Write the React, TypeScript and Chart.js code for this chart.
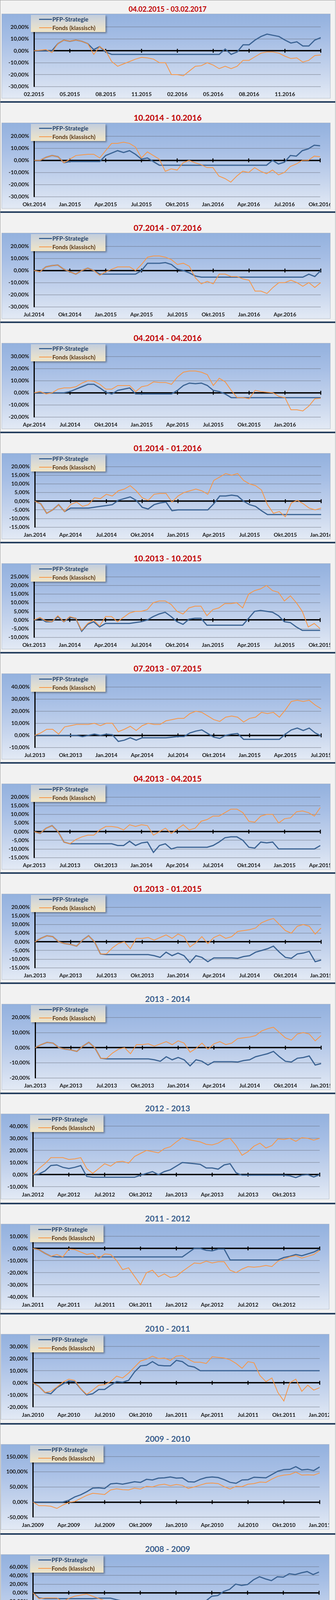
import React, { useEffect, useRef } from 'react';
import { Chart, registerables } from 'chart.js';

Chart.register(...registerables);

if (typeof document !== 'undefined') {
  document.body.style.margin = '0';
  document.body.style.background = '#ffffff';
}

// ---------------- DATA ----------------
const SERIES_PFP = 'PFP-Strategie';
const SERIES_FONDS = 'Fonds (klassisch)';

// values are sampled every half month over the 24-month window of each chart
const TITLE_1 = '04.02.2015 - 03.02.2017';
const XLABELS_1 = ['02.2015', '05.2015', '08.2015', '11.2015', '02.2016', '05.2016', '08.2016', '11.2016'];
const YAXIS_1 = [-30, 20, 10];
const PFP_1 = [0, 0, 0, 0, 6, 9, 8, 9, 8, 6, 1, 3.5, -1, -3, -3, -3, -3, -3, -3, -3, -3, -3, -3, -3, -3, -3, -3, -3, -3, -3, -3, -3, 1.5, -3, -1, 5, 5, 9, 12, 14, 13, 12, 9, 6.5, 7.5, 4, 4, 9, 11];
const FONDS_1 = [0, 0.5, 1, -1.5, 6, 9, 8, 9, 8, 6, -3, 3.5, 0, -9, -13, -11, -9, -7, -5.5, -6, -7, -10, -10, -20, -20, -21, -17, -13, -12.5, -10, -12, -15, -13, -15, -13, -8, -8, -5, -2, -1, -1, -2, -4.5, -6.5, -6, -9.5, -8, -4, -3.5];

const TITLE_2 = '10.2014 - 10.2016';
const XLABELS_2 = ['Okt.2014', 'Jan.2015', 'Apr.2015', 'Jul.2015', 'Okt.2015', 'Jan.2016', 'Apr.2016', 'Jul.2016', 'Okt.2016'];
const YAXIS_2 = [-30, 20, 10];
const PFP_2 = [0, 0, 2.5, 4, 3, -2, -1, -1, -1, -1, -1, -1, 4, 6, 8, 6.5, 8, 5, 1, 2, -1, -4, -4, -4, -4, -4, -4, -4, -4, -4, -4, -4, -4, -4, -4, -4, -4, -4, -4, -4, 0, -3, -1.5, 4, 3.5, 8, 9.5, 12.5, 12];
const FONDS_2 = [0, 0, 2.5, 4, 3, -2, 1, 4, 4.5, 5, 5, 2, 8, 14, 14, 15, 14, 11, 2, 7, 4, 1, -9, -7, -8, -2, 0, -2, -3.5, -6, -6, -13, -15, -18, -13, -9, -10, -6, -9, -11, -8, -12, -10, -5, -3, 0, 0, 3.5, 3];

const TITLE_3 = '07.2014 - 07.2016';
const XLABELS_3 = ['Jul.2014', 'Okt.2014', 'Jan.2015', 'Apr.2015', 'Jul.2015', 'Okt.2015', 'Jan.2016', 'Apr.2016'];
const YAXIS_3 = [-30, 20, 10];
const PFP_3 = [0, -1, 3, 4, 4.5, 1, -1, -3, 0, 2, 0, -3, -3, -3, -3, -3, -3, -3, 0, 6, 6, 6, 6.5, 5, 1, 0, -2, -4.5, -5.5, -5.5, -5.5, -5.5, -5.5, -5.5, -5.5, -5.5, -5.5, -5.5, -5.5, -5.5, -5.5, -5.5, -5.5, -5.5, -5.5, -5.5, -3, -5, 0];
const FONDS_3 = [0, -1, 3, 4, 4.5, 1, -1, -3, 0, 2, 0, -4, -1, 1, 3, 3, 3, 0, 5, 11, 12, 12, 11, 9, 5, 6, 3.5, -6, -11, -9, -11, -3, -3, -5, -5, -7, -8, -17, -17, -19, -14, -10, -10, -8, -10, -13, -10, -14, -10];

const TITLE_4 = '04.2014 - 04.2016';
const XLABELS_4 = ['Apr.2014', 'Jul.2014', 'Okt.2014', 'Jan.2015', 'Apr.2015', 'Jul.2015', 'Okt.2015', 'Jan.2016'];
const YAXIS_4 = [-20, 30, 10];
const PFP_4 = [0, 0, 0, 0, 0, 0, 1, 3, 5, 7, 7, 4, 0.5, -1, 2, 3, 4, -1, -1, -1, -1, -1, -1, -1, 2, 6, 8, 7.5, 8, 6, 2, 1, -1, -4, -4, -4, -4, -4, -4, -4, -4, -4, -4, -4, -4, -4, -4, -4, -4];
const FONDS_4 = [0, 1, -1, 0, 3, 4, 4, 5, 8, 10, 9.5, 7, 3, 3, 6, 6, 6, 1, 5, 6, 9, 8.5, 8.5, 7, 13, 17, 18, 18, 17, 15, 6, 12, 9, 2, -4, -4, -5, 2, 1, 0.5, 0, -3, -4, -14, -14, -15, -11, -5, -4.5];

const TITLE_5 = '01.2014 - 01.2016';
const XLABELS_5 = ['Jan.2014', 'Apr.2014', 'Jul.2014', 'Okt.2014', 'Jan.2015', 'Apr.2015', 'Jul.2015', 'Okt.2015', 'Jan.2016'];
const YAXIS_5 = [-15, 20, 5];
const PFP_5 = [0, -1.5, -7, -5, -2, -6, -4, -4, -4, -4, -3.5, -3, -2.5, -2, 0.5, 1.5, 2.5, 0.5, -3.5, -4.5, -2, -1, -0.5, -5.5, -5, -5, -5, -5, -5, -5, -1.5, 3, 3, 3.5, 3, 0, -2, -3, -5.5, -7.7, -7.7, -7.7, -7.7, -7.7, -7.7, -7.7, -7.7, -7.7, -7.7];
const FONDS_5 = [0, -1.5, -7, -5, -2, -6, -2, -0.5, -3, -2, 2, 1.5, 4, 3, 6, 7, 9, 6, 2, 0.5, 4, 4.5, 4.5, -0.5, 3, 5, 6, 7, 6, 4, 12, 14, 16, 15, 16, 12, 10, 9, 6.5, -2, -7, -6, -9, -1, 0.5, -1.5, -4, -5, -4];

const TITLE_6 = '10.2013 - 10.2015';
const XLABELS_6 = ['Okt.2013', 'Jan.2014', 'Apr.2014', 'Jul.2014', 'Okt.2014', 'Jan.2015', 'Apr.2015', 'Jul.2015', 'Okt.2015'];
const YAXIS_6 = [-10, 25, 5];
const PFP_6 = [0, 1, -1, -1, 2, -1, 1.5, 1, -6.5, -2.5, -1, -4, -2, -2, -2, -2, -2, -1.5, -1, 0, 2, 3.5, 4.5, 2, -1, -2.5, 0.5, 1, 1, -3, -3, -3, -3, -3, -3, -3, 1, 5, 5.5, 5, 4.5, 2.5, -1, -1.5, -4, -6, -6, -6, -6];
const FONDS_6 = [0, 1.5, -0.5, -1, 2.5, -1, 2, 1, -6, -2, 0, -3.5, 2, 2, -1, 1.5, 4, 5, 5, 6, 10, 11, 11, 9, 5, 3.5, 7, 8, 8, 2.5, 6, 7, 9.5, 9.5, 10, 7, 15, 17, 18, 20, 17, 16, 11, 14, 10, 5, -4, -2, -5];

const TITLE_7 = '07.2013 - 07.2015';
const XLABELS_7 = ['Jul.2013', 'Okt.2013', 'Jan.2014', 'Apr.2014', 'Jul.2014', 'Okt.2014', 'Jan.2015', 'Apr.2015', 'Jul.2015'];
const YAXIS_7 = [-10, 40, 10];
const PFP_7 = [0, 0, 0, 0, 0, 0, 0, 0, -1, 0, 1, 0, 1, 0.5, -5, -4, -2, -4, -2, -2, -2, -2, -2, -1.5, -1, -1, 2, 3.5, 4.5, 1.5, -1.5, -2.5, 0, 1, 1.5, -3.3, -3.3, -3.3, -3.3, -3.3, -3.3, -3.3, 1, 4.5, 6, 4, 6, 2, -0.5];
const FONDS_7 = [0, 2, 5, 5, 1, 7, 8, 9, 9, 9, 10, 8, 10, 10, 3, 5, 7.5, 4, 8, 10, 9, 9, 12, 13, 14, 14, 18, 20, 19, 16, 13, 11.5, 15, 16, 15, 11, 14, 15, 19, 18, 19, 15, 21, 28, 29, 28, 29, 25, 22];

const TITLE_8 = '04.2013 - 04.2015';
const XLABELS_8 = ['Apr.2013', 'Jul.2013', 'Okt.2013', 'Jan.2014', 'Apr.2014', 'Jul.2014', 'Okt.2014', 'Jan.2015', 'Apr.2015'];
const YAXIS_8 = [-15, 20, 5];
const PFP_8 = [0, -1, 2, 3.5, 0, -6, -7, -7, -7, -7, -7, -7, -7, -7, -8, -8, -5.5, -8, -6.5, -6, -12, -8, -7, -10, -9, -9, -9, -9, -9, -9, -8, -6, -3.5, -3, -3, -5, -9, -9.5, -6, -6.5, -6, -10, -10, -10, -10, -10, -10, -10, -8];
const FONDS_8 = [0, -1, 2, 3.5, 0, -6, -7, -4.5, -3, -2, -2, 1, 3, 3, 2.5, 1, 4, 3, 4, 3.5, -2, 0, 2, -1, 1.5, 4, 1, 2, 6, 7, 9, 9, 11, 13, 13, 11, 6, 5.5, 9, 10, 10, 5, 7.5, 8, 11.5, 12, 11, 9, 14];

// 01.2013 - 01.2015 and 2013 - 2014 show the same window
const TITLE_9 = '01.2013 - 01.2015';
const TITLE_10 = '2013 - 2014';
const XLABELS_9 = ['Jan.2013', 'Apr.2013', 'Jul.2013', 'Okt.2013', 'Jan.2014', 'Apr.2014', 'Jul.2014', 'Okt.2014', 'Jan.2015'];
const YAXIS_9 = [-15, 20, 5];
const YAXIS_10 = [-20, 20, 5];
const PFP_9 = [0, 2, 3.5, 3, 0, -1, -1.5, -2.5, 1, 3.5, 0, -7, -7.4, -7.4, -7.4, -7.4, -7.4, -7.4, -7.4, -7.4, -8, -9, -6, -8, -6.5, -8, -12, -8, -9, -11.5, -9.3, -9.3, -9.3, -9.3, -9.5, -8.5, -8, -6, -5, -4, -2.5, -6, -9, -9.5, -7, -6.5, -5.5, -11.5, -10.5];
const FONDS_9 = [0, 2, 3.5, 3, 0, -1, -1.5, -2.5, 1, 3.5, 0, -7, -7, -3.5, -1, 0, -4, 2, 2, 2.5, 1, 2.5, 4, 2, 4.5, 3, -3, -0.5, 3, -1, 2.5, 4, 2, 3, 6, 6.5, 7, 8, 11, 12.5, 13.5, 10, 6.5, 5, 9, 10, 9, 4.5, 8];

const TITLE_11 = '2012 - 2013';
const XLABELS_11 = ['Jan.2012', 'Apr.2012', 'Jul.2012', 'Okt.2012', 'Jan.2013', 'Apr.2013', 'Jul.2013', 'Okt.2013'];
const YAXIS_11 = [-10, 40, 10];
const PFP_11 = [0, 0.5, 3, 7.5, 8, 6, 5, 6, 7.5, -1.5, -2.2, -2.2, -2.2, -2.2, -2.2, -2.2, -2.2, -2.2, -0.5, 1, 2.5, 0, 2.5, 4, 7, 10, 9.5, 9, 8.5, 5.5, 5.5, 4.5, 8, 9, 1.5, -0.5, -0.5, -0.5, -0.5, -0.5, -0.5, -0.5, -0.5, -1, -2.5, -0.5, 0, -2, 0];
const FONDS_11 = [0, 5, 9, 14, 14, 14, 12.5, 13, 14, 5, 1, 5, 9, 7, 10.5, 11, 9.5, 15, 17.5, 20, 19, 18, 21.5, 23, 27, 30.5, 29, 28, 27, 25, 24.5, 26, 29, 30, 24, 16, 19, 23.5, 26, 22, 24, 29.5, 29, 30, 27.5, 30.5, 30, 28.5, 30];

const TITLE_12 = '2011 - 2012';
const XLABELS_12 = ['Jan.2011', 'Apr.2011', 'Jul.2011', 'Okt.2011', 'Jan.2012', 'Apr.2012', 'Jul.2012', 'Okt.2012'];
const YAXIS_12 = [-40, 10, 10];
const PFP_12 = [0, -1, -4, -6.5, -7, -7, -7, -7, -7, -7, -7, -7, -7, -7, -7, -7, -7, -7, -7, -7, -7, -7, -7, -7, -7, -7, -3.5, 0, 0, -1.5, -2, -0.5, -0.5, -9.5, -9.5, -9.5, -9.5, -9.5, -9.5, -9.5, -9.5, -9.5, -7.5, -6.5, -5, -6, -4.5, -3, -0.5];
const FONDS_12 = [0, -1, -4, -6.5, -5, -7, -0.5, -1, -3, -5, -4, -8.5, -4.5, -5, -10, -17.5, -16, -23, -30, -20, -18, -23.5, -21, -24, -23, -19, -15.5, -12, -12.5, -10.5, -12, -11, -11, -18, -20, -17, -15, -15.5, -15, -14, -15, -10.5, -9, -7, -6, -8, -6.5, -5, -1.5];

const TITLE_13 = '2010 - 2011';
const XLABELS_13 = ['Jan.2010', 'Apr.2010', 'Jul.2010', 'Okt.2010', 'Jan.2011', 'Apr.2011', 'Jul.2011', 'Okt.2011', 'Jan.2012'];
const YAXIS_13 = [-20, 30, 10];
const PFP_13 = [0, -3, -8, -9, -4, -1, 1.5, 1, -5, -10, -9, -5.5, -5.5, -2, 1, 0.5, 2, 9, 14, 14.5, 17.5, 14.5, 14, 14, 18.5, 17.5, 14, 13, 10, 10, 10, 10, 10, 10, 10, 10, 10, 10, 10, 10, 10, 10, 10, 10, 10, 10, 10, 10, 10];
const FONDS_13 = [0, -3, -8, -7, -3.5, 0.5, 3, 2, -5, -9.5, -6, -2, -1.5, 1, 5.5, 4, 8, 13, 18, 19.5, 22, 20, 20.5, 18.5, 22, 22.5, 19.5, 17, 17, 16, 21.5, 21, 20.5, 19, 16, 12, 17.5, 16.5, 6, 1, 4, -8, -15, 0, 3, -7, -2, -6, -4];

const TITLE_14 = '2009 - 2010';
const XLABELS_14 = ['Jan.2009', 'Apr.2009', 'Jul.2009', 'Okt.2009', 'Jan.2010', 'Apr.2010', 'Jul.2010', 'Okt.2010', 'Jan.2011'];
const YAXIS_14 = [-50, 150, 50];
const PFP_14 = [0, 0, 0, 0, 0, 0, 6, 17, 24, 34, 46, 47, 45, 60, 62, 59, 63, 67, 65, 75, 73, 79, 80, 83, 79, 80, 67, 66, 75, 81, 83, 81, 74, 65, 62, 73, 74, 82, 81, 80, 91, 102, 107, 108, 117, 106, 108, 104, 116];
const FONDS_14 = [0, -12, -12, -14, -21, -10, -1, 2, 12, 22, 29, 27, 25, 40, 44, 41, 40, 46, 43, 52, 50, 56, 59, 54, 58, 55, 45, 50, 56, 62, 63, 61, 51, 43, 52, 51, 59, 61, 66, 65, 76, 85, 89, 91, 99, 89, 90, 89, 96];

const TITLE_15 = '2008 - 2009';
const XLABELS_15 = ['Jan.2008', 'Apr.2008', 'Jul.2008', 'Okt.2008', 'Jan.2009', 'Apr.2009', 'Jul.2009', 'Okt.2009', 'Jan.2010'];
const YAXIS_15 = [-80, 60, 20];
const PFP_15 = [0, -12, -13.5, -13.5, -13.5, -13.5, -13.5, -13.5, -13.5, -13.5, -13.5, -12.5, -12.5, -12.5, -16, -19, -19, -19, -19, -19, -19, -19, -19, -19, -19, -19, -19, -19, -19, -19, -8, -6.5, 3, 8, 20, 17, 19, 30, 37, 32, 28, 37, 36, 44, 42, 46, 49, 42, 48];
const FONDS_15 = [0, -14, -12, -12, -12, -21, -13, -8, -5.5, -3, -8, -13, -18, -19, -19, -25, -29, -37, -45, -57, -56, -60, -55, -52, -50, -55, -55, -56, -58, -56, -49, -46, -40, -38, -33, -33, -30, -25, -25, -27, -24, -24, -22, -20, -19, -18, -18, -20, -17];

// ---------------- STYLE / LAYOUT ----------------
const MONTHS_SPAN = 24;
const TICK_STEP = 3;
const BLUE = '#3B6393';
const ORANGE = '#F79646';
const RED_TITLE = '#C00000';
const BLUE_TITLE = '#3A5F8E';
const GRID_COLOR = 'rgba(100,106,118,0.55)';
const TEXT_COLOR = '#161616';
const FONT = "Lato, 'Open Sans', sans-serif";
const PANEL_H = 282;
const BOX_GRADIENT = 'linear-gradient(180deg, #93B1DE 0%, #A6BEE5 30%, #C4D3EC 65%, #E3EAF5 100%)';
const LEGEND_GRADIENT = 'linear-gradient(180deg, #C2CDDC 0%, #D9DAD6 45%, #F0E5C6 100%)';

Chart.defaults.font.family = FONT;

type PanelDef = {
  title: string;
  titleColor: string;
  xLabels: string[];
  yAxis: number[];
  pfp: number[];
  fonds: number[];
};

const PANELS: PanelDef[] = [
  { title: TITLE_1, titleColor: RED_TITLE, xLabels: XLABELS_1, yAxis: YAXIS_1, pfp: PFP_1, fonds: FONDS_1 },
  { title: TITLE_2, titleColor: RED_TITLE, xLabels: XLABELS_2, yAxis: YAXIS_2, pfp: PFP_2, fonds: FONDS_2 },
  { title: TITLE_3, titleColor: RED_TITLE, xLabels: XLABELS_3, yAxis: YAXIS_3, pfp: PFP_3, fonds: FONDS_3 },
  { title: TITLE_4, titleColor: RED_TITLE, xLabels: XLABELS_4, yAxis: YAXIS_4, pfp: PFP_4, fonds: FONDS_4 },
  { title: TITLE_5, titleColor: RED_TITLE, xLabels: XLABELS_5, yAxis: YAXIS_5, pfp: PFP_5, fonds: FONDS_5 },
  { title: TITLE_6, titleColor: RED_TITLE, xLabels: XLABELS_6, yAxis: YAXIS_6, pfp: PFP_6, fonds: FONDS_6 },
  { title: TITLE_7, titleColor: RED_TITLE, xLabels: XLABELS_7, yAxis: YAXIS_7, pfp: PFP_7, fonds: FONDS_7 },
  { title: TITLE_8, titleColor: RED_TITLE, xLabels: XLABELS_8, yAxis: YAXIS_8, pfp: PFP_8, fonds: FONDS_8 },
  { title: TITLE_9, titleColor: RED_TITLE, xLabels: XLABELS_9, yAxis: YAXIS_9, pfp: PFP_9, fonds: FONDS_9 },
  { title: TITLE_10, titleColor: BLUE_TITLE, xLabels: XLABELS_9, yAxis: YAXIS_10, pfp: PFP_9, fonds: FONDS_9 },
  { title: TITLE_11, titleColor: BLUE_TITLE, xLabels: XLABELS_11, yAxis: YAXIS_11, pfp: PFP_11, fonds: FONDS_11 },
  { title: TITLE_12, titleColor: BLUE_TITLE, xLabels: XLABELS_12, yAxis: YAXIS_12, pfp: PFP_12, fonds: FONDS_12 },
  { title: TITLE_13, titleColor: BLUE_TITLE, xLabels: XLABELS_13, yAxis: YAXIS_13, pfp: PFP_13, fonds: FONDS_13 },
  { title: TITLE_14, titleColor: BLUE_TITLE, xLabels: XLABELS_14, yAxis: YAXIS_14, pfp: PFP_14, fonds: FONDS_14 },
  { title: TITLE_15, titleColor: BLUE_TITLE, xLabels: XLABELS_15, yAxis: YAXIS_15, pfp: PFP_15, fonds: FONDS_15 },
];

const LAYOUT_A = { titleY: 18, boxL: 3, boxT: 31, boxW: 842, boxB: 251, plotT: 65.5, plotB: 220.5, labelY: 240, legendL: 78, legendW: 191 };
const LAYOUT_B = { titleY: 16, boxL: 1, boxT: 30, boxW: 841, boxB: 249, plotT: 62, plotB: 217, labelY: 237, legendL: 76, legendW: 188 };
const PLOT_X = [
  [86, 820], [86.5, 818.5], [86, 820], [86.5, 820], [88, 821],
  [86, 818.5], [88, 821], [86.5, 819], [88.3, 821], [89, 821],
  [83.4, 817.3], [83.4, 817.3], [83.4, 817.3], [83.4, 817.3], [83.4, 815.7],
];

const fmtPct = (v: number) => v.toFixed(2).replace('.', ',') + '%';

const zeroTicksPlugin = {
  id: 'zeroTicks',
  beforeDatasetsDraw(chart: any) {
    const xs = chart.scales.x;
    const ys = chart.scales.y;
    const y0 = ys.getPixelForValue(0);
    const ctx = chart.ctx;
    ctx.save();
    ctx.strokeStyle = '#000';
    ctx.lineWidth = 2.5;
    for (const t of xs.ticks) {
      if (t.value <= xs.min) continue;
      const px = xs.getPixelForValue(t.value);
      ctx.beginPath();
      ctx.moveTo(px, y0 - 5);
      ctx.lineTo(px, y0 + 5);
      ctx.stroke();
    }
    ctx.restore();
  },
};

function LegendBox({ left, width }: { left: number; width: number }) {
  const row = (center: number, color: string, thick: number, text: string, textColor: string) => (
    <div style={{ position: 'absolute', left: 0, top: center - 10, width, height: 20 }}>
      <div style={{ position: 'absolute', left: 21, width: 33, top: 10 - thick / 2, height: thick, background: color }} />
      <div style={{ position: 'absolute', left: 55, top: 0, height: 20, lineHeight: '20px', fontFamily: FONT, fontWeight: 700, fontSize: 15, color: textColor, whiteSpace: 'nowrap' }}>{text}</div>
    </div>
  );
  return (
    <div style={{ position: 'absolute', left, top: 3, width, height: 44, background: LEGEND_GRADIENT, boxShadow: '3px 3px 4px rgba(0,0,0,0.35)' }}>
      {row(11, BLUE, 3, SERIES_PFP, '#1F3D66')}
      {row(33, ORANGE, 2.5, SERIES_FONDS, '#5b3716')}
    </div>
  );
}

function ChartPanel({ def, index }: { def: PanelDef; index: number }) {
  const ref = useRef<HTMLCanvasElement | null>(null);
  const L = index < 10 ? LAYOUT_A : LAYOUT_B;
  const first = index === 0;
  const boxT = first ? 34 : L.boxT;
  const W = L.boxW;
  const H = L.boxB - boxT;
  const plotT = first ? 68 : L.plotT;
  const [plotL, plotR] = PLOT_X[index];
  const cL = plotL - L.boxL;
  const cR = plotR - L.boxL;
  const cT = plotT - boxT;
  const cB = L.plotB - boxT;
  const labelPad = L.labelY - L.plotB - 8.4;

  useEffect(() => {
    if (!ref.current) return;
    const n = def.pfp.length;
    const step = MONTHS_SPAN / (n - 1);
    const pts = (arr: number[]) => arr.map((v, i) => ({ x: i * step, y: v }));
    const [yMin, yMax, yStep] = def.yAxis;
    const tickFont = { family: FONT, size: 14, weight: 'bold' as const };
    const chart = new Chart(ref.current, {
      type: 'line',
      data: {
        datasets: [
          { label: SERIES_PFP, data: pts(def.pfp), borderColor: BLUE, backgroundColor: BLUE, borderWidth: 3, pointRadius: 0, tension: 0, order: 1 },
          { label: SERIES_FONDS, data: pts(def.fonds), borderColor: ORANGE, backgroundColor: ORANGE, borderWidth: 2, pointRadius: 0, tension: 0, order: 0 },
        ],
      },
      options: {
        animation: false,
        responsive: false,
        events: [],
        layout: { padding: { top: cT, right: W - cR, left: 0, bottom: 0 } },
        plugins: { legend: { display: false }, tooltip: { enabled: false }, title: { display: false } },
        scales: {
          x: {
            type: 'linear',
            min: 0,
            max: MONTHS_SPAN,
            grid: { display: false, drawTicks: false },
            border: { display: false },
            ticks: {
              stepSize: TICK_STEP,
              autoSkip: false,
              maxRotation: 0,
              minRotation: 0,
              padding: labelPad,
              color: TEXT_COLOR,
              font: tickFont,
              callback: (v: any) => {
                const i = Math.round(Number(v) / TICK_STEP);
                return def.xLabels[i] ?? '';
              },
            },
            afterFit: (s: any) => {
              s.height = H - cB;
              s.paddingLeft = 0;
              s.paddingRight = 0;
            },
          },
          y: {
            type: 'linear',
            min: yMin,
            max: yMax,
            grid: {
              drawTicks: false,
              color: (c: any) => (c.tick && c.tick.value === 0 ? '#000000' : GRID_COLOR),
              lineWidth: (c: any) => (c.tick && c.tick.value === 0 ? 3.5 : 1.5),
            },
            border: { display: true, color: '#000000', width: 3 },
            ticks: {
              stepSize: yStep,
              padding: 13,
              color: TEXT_COLOR,
              font: tickFont,
              callback: (v: any) => fmtPct(Number(v)),
            },
            afterFit: (s: any) => {
              s.width = cL;
              s.paddingTop = 0;
              s.paddingBottom = 0;
            },
          },
        },
      },
      plugins: [zeroTicksPlugin],
    });
    return () => chart.destroy();
  }, []);

  return (
    <div style={{ position: 'absolute', top: index * PANEL_H, left: 0, width: 858, height: PANEL_H }}>
      <div
        style={{
          position: 'absolute', left: 0, width: 856, top: (first ? 22 : L.titleY) - 14, height: 28, lineHeight: '28px',
          textAlign: 'center', fontFamily: FONT, fontWeight: 700, fontSize: first ? 18 : 21, color: def.titleColor,
        }}
      >
        {def.title}
      </div>
      <div style={{ position: 'absolute', left: L.boxL, top: boxT, width: W, height: H, background: BOX_GRADIENT, overflow: 'hidden' }}>
        <canvas ref={ref} width={W} height={H} style={{ position: 'absolute', left: 0, top: 0, width: W, height: H }} />
        <div style={{ position: 'absolute', left: 0, top: 0, right: 0, bottom: 0, border: '1px solid #B2BCCA', pointerEvents: 'none' }} />
        <LegendBox left={L.legendL - L.boxL} width={L.legendW} />
      </div>
      <div style={{ position: 'absolute', left: 0, top: 258, width: 857, height: 4, background: '#243E5E' }} />
    </div>
  );
}

export default function App() {
  return (
    <div
      style={{
        position: 'relative', width: 859, height: 4232, boxSizing: 'border-box',
        border: '1px solid #9C9C9C', background: '#F2F2F2', overflow: 'hidden',
      }}
    >
      {PANELS.map((p, i) => (
        <ChartPanel key={i} def={p} index={i} />
      ))}
    </div>
  );
}
